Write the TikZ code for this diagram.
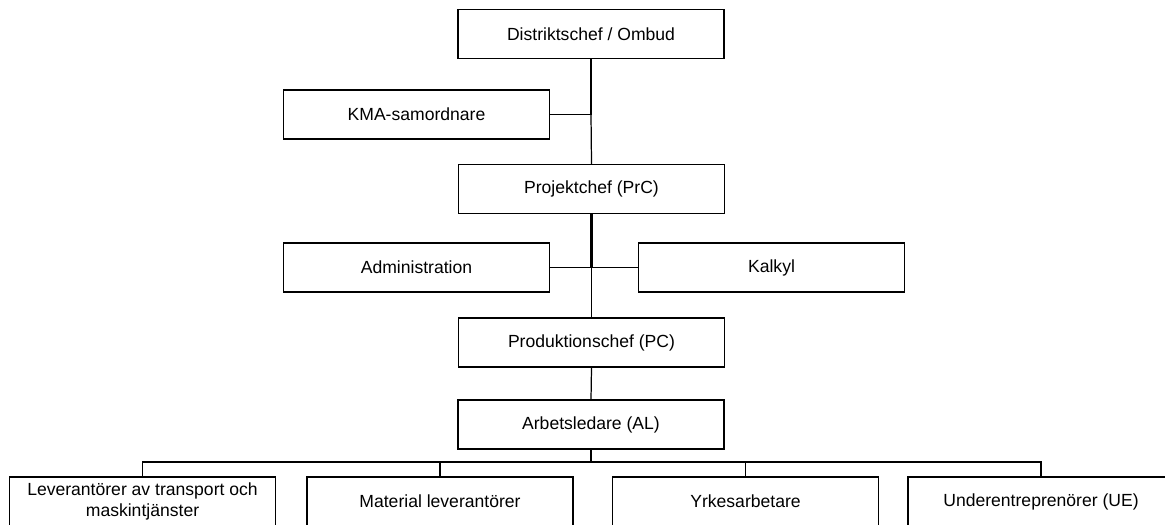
\documentclass[tikz,border=0pt]{standalone}
\usepackage{fontspec}
\setmainfont{Liberation Sans}

\begin{document}
\begin{tikzpicture}[x=0.02cm,y=-0.02cm]
	\tikzstyle{box}=[draw,line width=0.7pt,minimum width=5.32cm,minimum height=0.98cm,inner sep=0pt,align=center,font=\fontsize{10}{11.5}\selectfont]
	\tikzstyle{link}=[line width=0.7pt]
	\tikzstyle{trunk}=[line width=1.2pt]
	\clip (0,0) rectangle (1165,524);
	% ledning
	\node (distrikt) [box] at (591,34) {Distriktschef / Ombud};
	\node (kma) [box] at (416.5,114.5) {KMA-samordnare};
	\node (projekt) [box] at (591.5,189) {Projektchef (PrC)};
	\node (admin) [box] at (416.5,267.5) {Administration};
	\node (kalkyl) [box] at (771.5,267.5) {Kalkyl};
	\node (produktion) [box] at (591.5,342.5) {Produktionschef (PC)};
	\node (arbets) [box] at (591,424.5) {Arbetsledare (AL)};
	% utf\"orare
	\node (lev) [box] at (142.5,501.5) {Leverant\"orer av transport och\\maskintj\"anster};
	\node (material) [box] at (440,501.5) {Material leverant\"orer};
	\node (yrkes) [box] at (745.5,501.5) {Yrkesarbetare};
	\node (ue) [box] at (1041,501.5) {Underentrepren\"orer (UE)};
	\coordinate (bus) at (591,462);
	% linjer
	\draw[trunk] (distrikt.south) -- (distrikt.south |- kma.east);
	\draw[link] (distrikt.south |- kma.east) -- (projekt.north);
	\draw[link] (kma.east) -- (distrikt.south |- kma.east);
	\draw[trunk] (projekt.south) -- (projekt.south |- admin.east);
	\draw[link] (projekt.south |- admin.east) -- (produktion.north);
	\draw[link] (admin.east) -- (kalkyl.west);
	\draw[link] (produktion.south) -- (arbets.north);
	\draw[trunk] (arbets.south) -- (bus);
	\draw[link] (lev.north) -- (lev.north |- bus) -- (ue.north |- bus) -- (ue.north);
	\draw[link] (material.north) -- (material.north |- bus);
	\draw[link] (yrkes.north) -- (yrkes.north |- bus);
\end{tikzpicture}
\end{document}
